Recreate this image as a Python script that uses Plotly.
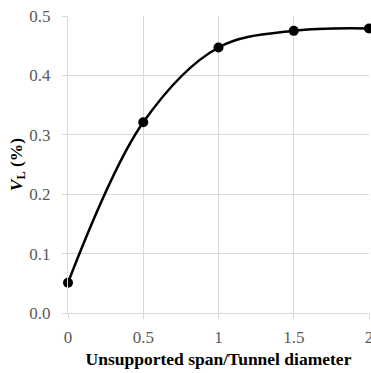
import plotly.graph_objects as go

x_vals = [0, 0.5, 1, 1.5, 2]
y_vals = [0.051, 0.321, 0.447, 0.475, 0.479]
x_ticks = [0, 0.5, 1, 1.5, 2]
x_tick_text = ["0", "0.5", "1", "1.5", "2"]
y_ticks = [0, 0.1, 0.2, 0.3, 0.4, 0.5]

fig = go.Figure()
fig.add_trace(go.Scatter(
    x=x_vals, y=y_vals, mode="lines+markers",
    line=dict(color="black", width=2.5, shape="spline", smoothing=1.0),
    marker=dict(color="black", size=10),
    cliponaxis=False, showlegend=False,
))

font_serif = "Liberation Serif, Times New Roman, serif"
fig.update_layout(
    width=371, height=373,
    margin=dict(l=68, r=2, t=16, b=60, autoexpand=False),
    paper_bgcolor="white", plot_bgcolor="white",
    font=dict(family=font_serif, color="#595959", size=16),
    xaxis=dict(
        range=[0, 2], tickvals=x_ticks, ticktext=x_tick_text,
        showgrid=True, gridcolor="#d9d9d9", gridwidth=1,
        showline=True, linecolor="#d9d9d9", linewidth=1,
        ticks="outside", ticklen=5, tickcolor="#d9d9d9",
        ticklabelstandoff=4, ticklabeloverflow="allow", automargin=False,
        tickfont=dict(family=font_serif, size=17, color="#595959"),
        zeroline=False,
        title=dict(text="<b>Unsupported span/Tunnel diameter</b>",
                   font=dict(family=font_serif, size=17.5, color="black"), standoff=6),
    ),
    yaxis=dict(
        range=[0, 0.5], tickvals=y_ticks, tickformat=".1f",
        showgrid=True, gridcolor="#d9d9d9", gridwidth=1,
        showline=True, linecolor="#d9d9d9", linewidth=1,
        ticks="outside", ticklen=5, tickcolor="#d9d9d9",
        ticklabelstandoff=8, automargin=False,
        tickfont=dict(family=font_serif, size=17, color="#595959"),
        zeroline=False,
        title=dict(text="<b><i>V</i><sub>L</sub> (%)</b>",
                   font=dict(family=font_serif, size=17.5, color="black"), standoff=2),
    ),
)

fig.write_html("out.html")
